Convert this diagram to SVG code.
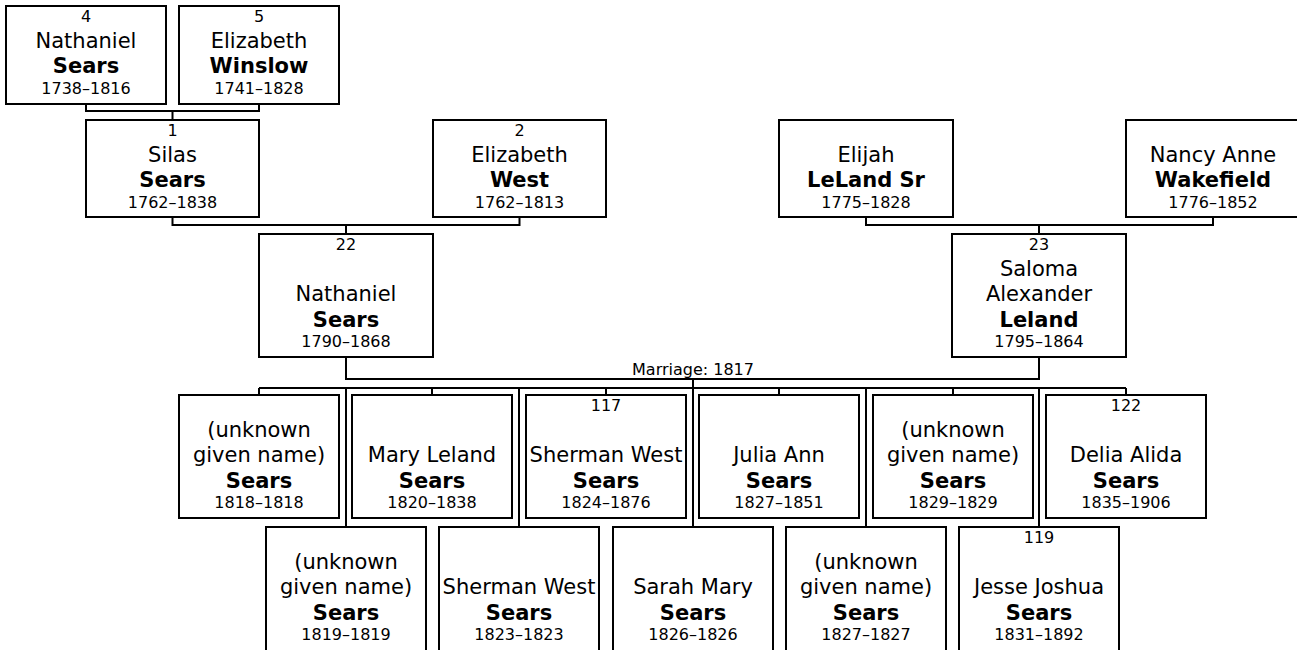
<svg xmlns="http://www.w3.org/2000/svg" width="1297" height="650" viewBox="0 0 1297 650">
<style>
.box{fill:#fff;stroke:#000;stroke-width:2}
.ln{fill:none;stroke:#000;stroke-width:2}
text{font-family:"DejaVu Sans","Liberation Sans",sans-serif;fill:#000;text-anchor:middle}
.n{font-size:21px}
.b{font-size:21px;font-weight:bold}
.s{font-size:16px}
</style>
<rect width="1297" height="650" fill="#fff"/>
<g id="connectors">
<path class="ln" d="M86,104 V111 H259 V104 M172.5,111 V120"/>
<path class="ln" d="M172.5,217 V225 H519.5 V217 M346,225 V234"/>
<path class="ln" d="M866,217 V225 H1213 V217 M1039,225 V234"/>
<path class="ln" d="M346,357 V379 H1039 V357 M693,379 V527"/>
<path class="ln" d="M259,388 H1126"/>
<path class="ln" d="M259,388 V395 M432,388 V395 M606,388 V395 M779,388 V395 M953,388 V395 M1126,388 V395"/>
<path class="ln" d="M346,388 V527 M519,388 V527 M866,388 V527 M1039,388 V527"/>
<text class="s" x="693" y="375">Marriage: 1817</text>
</g>
<g id="p4">
<rect class="box" x="6" y="6" width="160" height="98"/>
<text class="s" x="86" y="22">4</text>
<text class="n" x="86" y="47.5">Nathaniel</text>
<text class="b" x="86" y="73">Sears</text>
<text class="s" x="86" y="93.5">1738–1816</text>
</g>
<g id="p5">
<rect class="box" x="179" y="6" width="160" height="98"/>
<text class="s" x="259" y="22">5</text>
<text class="n" x="259" y="47.5">Elizabeth</text>
<text class="b" x="259" y="73">Winslow</text>
<text class="s" x="259" y="93.5">1741–1828</text>
</g>
<g id="p1">
<rect class="box" x="86" y="120" width="173" height="97"/>
<text class="s" x="172.5" y="136">1</text>
<text class="n" x="172.5" y="161.5">Silas</text>
<text class="b" x="172.5" y="187">Sears</text>
<text class="s" x="172.5" y="207.5">1762–1838</text>
</g>
<g id="p2">
<rect class="box" x="433" y="120" width="173" height="97"/>
<text class="s" x="519.5" y="136">2</text>
<text class="n" x="519.5" y="161.5">Elizabeth</text>
<text class="b" x="519.5" y="187">West</text>
<text class="s" x="519.5" y="207.5">1762–1813</text>
</g>
<g id="pElijah">
<rect class="box" x="779" y="120" width="174" height="97"/>
<text class="n" x="866" y="161.5">Elijah</text>
<text class="b" x="866" y="187">LeLand Sr</text>
<text class="s" x="866" y="207.5">1775–1828</text>
</g>
<g id="pNancy">
<rect class="box" x="1126" y="120" width="174" height="97"/>
<text class="n" x="1213" y="161.5">Nancy Anne</text>
<text class="b" x="1213" y="187">Wakefield</text>
<text class="s" x="1213" y="207.5">1776–1852</text>
</g>
<g id="p22">
<rect class="box" x="259" y="234" width="174" height="123"/>
<text class="s" x="346" y="250">22</text>
<text class="n" x="346" y="301">Nathaniel</text>
<text class="b" x="346" y="326.5">Sears</text>
<text class="s" x="346" y="347">1790–1868</text>
</g>
<g id="p23">
<rect class="box" x="952" y="234" width="174" height="123"/>
<text class="s" x="1039" y="250">23</text>
<text class="n" x="1039" y="275.5">Saloma</text>
<text class="n" x="1039" y="301">Alexander</text>
<text class="b" x="1039" y="326.5">Leland</text>
<text class="s" x="1039" y="347">1795–1864</text>
</g>
<g id="c1818">
<rect class="box" x="179" y="395" width="160" height="123"/>
<text class="n" x="259" y="436.5">(unknown</text>
<text class="n" x="259" y="462">given name)</text>
<text class="b" x="259" y="487.5">Sears</text>
<text class="s" x="259" y="508">1818–1818</text>
</g>
<g id="c1820">
<rect class="box" x="352" y="395" width="160" height="123"/>
<text class="n" x="432" y="462">Mary Leland</text>
<text class="b" x="432" y="487.5">Sears</text>
<text class="s" x="432" y="508">1820–1838</text>
</g>
<g id="c117">
<rect class="box" x="526" y="395" width="160" height="123"/>
<text class="s" x="606" y="411">117</text>
<text class="n" x="606" y="462">Sherman West</text>
<text class="b" x="606" y="487.5">Sears</text>
<text class="s" x="606" y="508">1824–1876</text>
</g>
<g id="c1827a">
<rect class="box" x="699" y="395" width="160" height="123"/>
<text class="n" x="779" y="462">Julia Ann</text>
<text class="b" x="779" y="487.5">Sears</text>
<text class="s" x="779" y="508">1827–1851</text>
</g>
<g id="c1829">
<rect class="box" x="873" y="395" width="160" height="123"/>
<text class="n" x="953" y="436.5">(unknown</text>
<text class="n" x="953" y="462">given name)</text>
<text class="b" x="953" y="487.5">Sears</text>
<text class="s" x="953" y="508">1829–1829</text>
</g>
<g id="c122">
<rect class="box" x="1046" y="395" width="160" height="123"/>
<text class="s" x="1126" y="411">122</text>
<text class="n" x="1126" y="462">Delia Alida</text>
<text class="b" x="1126" y="487.5">Sears</text>
<text class="s" x="1126" y="508">1835–1906</text>
</g>
<g id="c1819">
<rect class="box" x="266" y="527" width="160" height="125"/>
<text class="n" x="346" y="568.5">(unknown</text>
<text class="n" x="346" y="594">given name)</text>
<text class="b" x="346" y="619.5">Sears</text>
<text class="s" x="346" y="640">1819–1819</text>
</g>
<g id="c1823">
<rect class="box" x="439" y="527" width="160" height="125"/>
<text class="n" x="519" y="594">Sherman West</text>
<text class="b" x="519" y="619.5">Sears</text>
<text class="s" x="519" y="640">1823–1823</text>
</g>
<g id="c1826">
<rect class="box" x="613" y="527" width="160" height="125"/>
<text class="n" x="693" y="594">Sarah Mary</text>
<text class="b" x="693" y="619.5">Sears</text>
<text class="s" x="693" y="640">1826–1826</text>
</g>
<g id="c1827b">
<rect class="box" x="786" y="527" width="160" height="125"/>
<text class="n" x="866" y="568.5">(unknown</text>
<text class="n" x="866" y="594">given name)</text>
<text class="b" x="866" y="619.5">Sears</text>
<text class="s" x="866" y="640">1827–1827</text>
</g>
<g id="c119">
<rect class="box" x="959" y="527" width="160" height="125"/>
<text class="s" x="1039" y="543">119</text>
<text class="n" x="1039" y="594">Jesse Joshua</text>
<text class="b" x="1039" y="619.5">Sears</text>
<text class="s" x="1039" y="640">1831–1892</text>
</g>
</svg>
